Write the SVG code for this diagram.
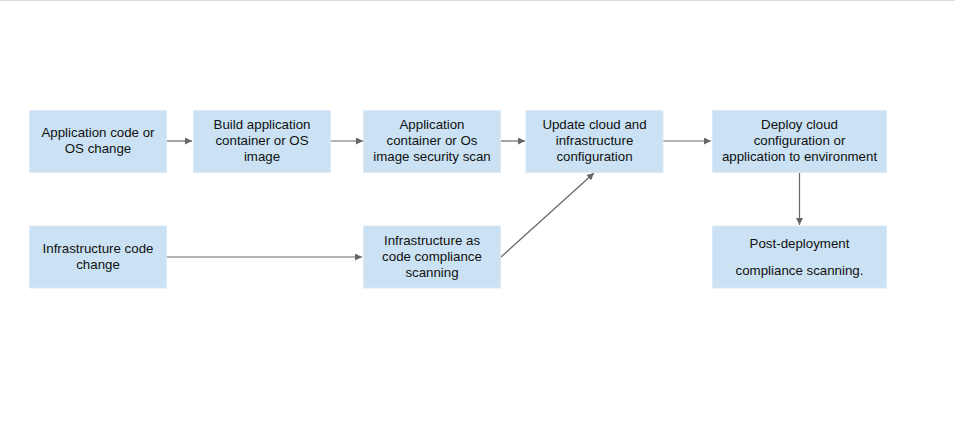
<svg xmlns="http://www.w3.org/2000/svg" width="955" height="427" viewBox="0 0 955 427">
<defs>
<style>
.box{fill:#cae2f3;stroke:#dbeaf6;stroke-width:1}
.t{font-family:"Liberation Sans",Arial,sans-serif;font-size:13.3px;fill:#111;text-anchor:middle}
.c{fill:none;stroke:#666;stroke-width:1.2}
</style>
<marker id="ah" viewBox="0 0 10 10" refX="10" refY="5" markerWidth="8" markerHeight="7" markerUnits="userSpaceOnUse" orient="auto">
<path d="M0,0 L10,5 L0,10 z" fill="#666"/>
</marker>
</defs>
<rect width="955" height="427" fill="#fff"/>
<line x1="0" y1="0.5" x2="955" y2="0.5" stroke="#dcdcdc" stroke-width="1"/>
<g id="connectors">
<line class="c" x1="166" y1="141" x2="192" y2="141" marker-end="url(#ah)"/>
<line class="c" x1="330" y1="141" x2="363" y2="141" marker-end="url(#ah)"/>
<line class="c" x1="501" y1="141" x2="525" y2="141" marker-end="url(#ah)"/>
<line class="c" x1="663" y1="141" x2="711" y2="141" marker-end="url(#ah)"/>
<line class="c" x1="799.5" y1="172" x2="799.5" y2="225" marker-end="url(#ah)"/>
<line class="c" x1="166" y1="257" x2="362" y2="257" marker-end="url(#ah)"/>
<line class="c" x1="501" y1="257" x2="594" y2="173" marker-end="url(#ah)"/>
</g>
<g id="n1">
<rect class="box" x="29.5" y="110.5" width="137" height="62"/>
<text class="t" x="98" y="137">Application code or</text>
<text class="t" x="98" y="153">OS change</text>
</g>
<g id="n2">
<rect class="box" x="193.5" y="110.5" width="137" height="62"/>
<text class="t" x="262" y="129">Build application</text>
<text class="t" x="262" y="145">container or OS</text>
<text class="t" x="262" y="161">image</text>
</g>
<g id="n3">
<rect class="box" x="363.5" y="110.5" width="137" height="62"/>
<text class="t" x="432" y="129">Application</text>
<text class="t" x="432" y="145">container or Os</text>
<text class="t" x="432" y="161">image security scan</text>
</g>
<g id="n4">
<rect class="box" x="526" y="110.5" width="137" height="62"/>
<text class="t" x="594.5" y="129">Update cloud and</text>
<text class="t" x="594.5" y="145">infrastructure</text>
<text class="t" x="594.5" y="161">configuration</text>
</g>
<g id="n5">
<rect class="box" x="712.5" y="110.5" width="174" height="62"/>
<text class="t" x="799.5" y="129">Deploy cloud</text>
<text class="t" x="799.5" y="145">configuration or</text>
<text class="t" x="799.5" y="161">application to environment</text>
</g>
<g id="n6">
<rect class="box" x="29.5" y="226" width="137" height="62"/>
<text class="t" x="98" y="253">Infrastructure code</text>
<text class="t" x="98" y="269">change</text>
</g>
<g id="n7">
<rect class="box" x="363.5" y="226" width="137" height="62"/>
<text class="t" x="432" y="245">Infrastructure as</text>
<text class="t" x="432" y="261">code compliance</text>
<text class="t" x="432" y="277">scanning</text>
</g>
<g id="n8">
<rect class="box" x="712.5" y="226" width="174" height="62"/>
<text class="t" x="799.5" y="247.5">Post-deployment</text>
<text class="t" x="799.5" y="275">compliance scanning.</text>
</g>
</svg>
